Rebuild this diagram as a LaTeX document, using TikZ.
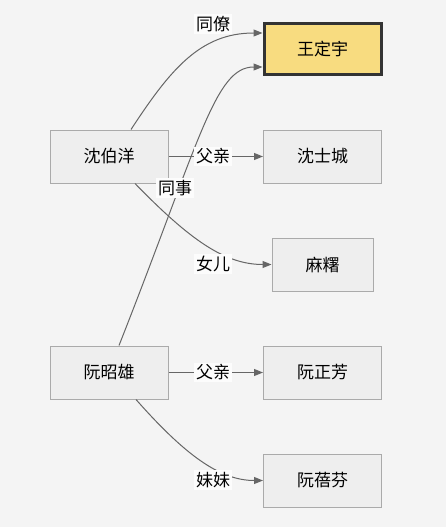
\documentclass[tikz,border=0pt]{standalone}
\usepackage{fontspec}
\setmainfont{Noto Sans CJK SC}
\usetikzlibrary{arrows.meta}
\definecolor{bgc}{HTML}{F4F4F4}
\definecolor{boxc}{HTML}{EEEEEE}
\definecolor{linec}{HTML}{AAAAAA}
\definecolor{edgec}{HTML}{666666}
\definecolor{gold}{HTML}{F8DC80}
\begin{document}
\begin{tikzpicture}
  [x=1pt,y=-1pt,
   every node/.style={font=\fontsize{17}{19}\selectfont,inner sep=0pt},
   person/.style={draw=linec,line width=1pt,fill=boxc,minimum width=118pt,minimum height=53pt},
   focus/.style={draw=black!80,line width=3pt,fill=gold,minimum width=117pt,minimum height=51pt},
   rel/.style={draw=edgec,line width=1pt,-{Triangle[length=9pt,width=7pt]}},
   lbl/.style={fill=white!70!bgc,inner xsep=2pt,inner ysep=2pt}]

  \fill[bgc] (0,0) rectangle (446,527);
  \useasboundingbox (0,0) rectangle (446,527);

  \node [person] (sby) at (109,156.5) {沈伯洋};
  \node [focus]  (wdy) at (322.5,49) {王定宇};
  \node [person] (ssc) at (322.5,156.5) {沈士城};
  \node [person,minimum width=101pt] (ms) at (322.5,264.5) {麻糬};
  \node [person] (rzx) at (109,372.5) {阮昭雄};
  \node [person] (rzf) at (322.5,372.5) {阮正芳};
  \node [person] (rbf) at (322.5,480.5) {阮蓓芬};

  % colleagues
  \draw [rel] ([xshift=22pt]sby.north) .. controls (170,70) and (200,33) .. ([yshift=16pt]wdy.west);
  \draw [rel] ([xshift=10pt]rzx.north) .. controls (200,140) and (215,67) .. ([yshift=-18pt]wdy.west);

  % family
  \foreach \from/\to in {sby/ssc,rzx/rzf}
    \draw [rel] (\from) -- (\to);
  \draw [rel] ([xshift=26pt]sby.south) .. controls (190,240) and (225,264.5) .. (ms.west);
  \draw [rel] ([xshift=27pt]rzx.south) .. controls (185,455) and (220,480.5) .. (rbf.west);

  \node [lbl] (l1) at (213,24) {同僚};
  \node [lbl] (l2) at (175,188) {同事};
  \node [lbl] (l3) at (213,156.5) {父亲};
  \node [lbl] (l4) at (213,264) {女儿};
  \node [lbl] (l5) at (213,372.5) {父亲};
  \node [lbl] (l6) at (213,480) {妹妹};
\end{tikzpicture}
\end{document}
